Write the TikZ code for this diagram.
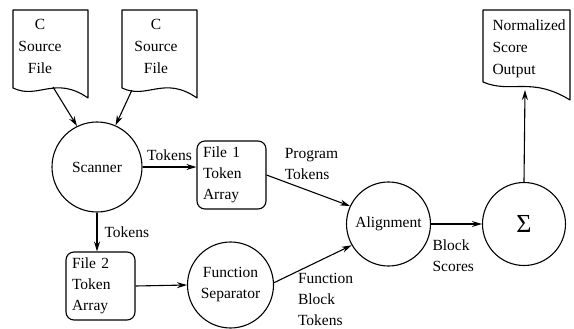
\documentclass[tikz,border=0pt]{standalone}
\usepackage{fontspec}
\setmainfont{Liberation Serif}
\usetikzlibrary{arrows.meta}
\begin{document}
\begin{tikzpicture}[x=1pt, y=-1pt, line width=1.1pt, font=\fontsize{15.5}{21}\selectfont]
        \tikzstyle{docpage}=[draw, line join=round]
        \tikzstyle{doctext}=[align=center, inner sep=0pt, font=\fontsize{15.5}{22}\selectfont]
        \tikzstyle{proc}=[draw, circle, minimum size=86pt, inner sep=0pt, align=center]
        \tikzstyle{store}=[draw, rectangle, rounded corners=8pt, minimum width=69pt, minimum height=68pt, text width=57pt, align=left, inner sep=0pt]
        \tikzstyle{arr}=[-{Stealth[length=10pt, width=6pt]}]
        \tikzstyle{lbl}=[align=left, inner sep=1pt]
        \useasboundingbox (0,0) rectangle (574,329);
        % input files
        \begin{scope}[shift={(13,10)}]
            \draw[docpage] (0,0) -- (0,78) .. controls (25,90) and (42,65) .. (75,88) -- (75,0) -- cycle;
            \node[doctext] (srcA) at (27,36) {C\\Source\\File};
            \coordinate (srcAout) at (40,77);
        \end{scope}
        \begin{scope}[shift={(122,10)}]
            \draw[docpage] (0,0) -- (0,78) .. controls (25,90) and (42,65) .. (75,88) -- (75,0) -- cycle;
            \node[doctext] (srcB) at (34,36) {C\\Source\\File};
            \coordinate (srcBout) at (10,80);
        \end{scope}
        % output file
        \begin{scope}[shift={(483,10)}]
            \draw[docpage] (0,0) -- (0,72) .. controls (28,84) and (48,66) .. (87,90) -- (87,0) -- cycle;
            \node[doctext, align=left, anchor=north west] (result) at (9,9) {Normalized\\Score\\Output};
            \coordinate (resultin) at (42,80);
        \end{scope}
        \node[proc, minimum size=90pt] (scanner) at (97,167) {Scanner};
        \node[store] (file1) at (231.5,175) {File 1\\Token\\Array};
        \node[store] (file2) at (100.5,286) {File 2\\Token\\Array};
        \node[proc] (fsep) at (230.5,285) {Function\\Separator};
        \node[proc, minimum size=84pt] (align) at (388.5,224) {Alignment};
        \node[proc, minimum size=83pt] (sigma) at (524,224) {\fontsize{26}{26}\selectfont Σ};
        \draw[arr] (srcAout) -- (scanner.116);
        \draw[arr] (srcBout) -- (scanner.66);
        \draw[arr] (scanner.east) -- (scanner.east -| file1.west) node[midway, above=5pt, lbl] {Tokens};
        \draw[arr] (scanner.south) -- (scanner.south |- file2.north) node[midway, right=6pt, lbl] {Tokens};
        \draw[arr] (file2.east) -- (fsep.west);
        \draw[arr] (file1.east) -- (align.155) node[pos=0.2, anchor=south west, lbl] {Program\\Tokens};
        \draw[arr] (fsep.3) -- (align.210) node[pos=0.29, anchor=north west, lbl, fill=white] {Function\\Block\\Tokens};
        \draw[arr] (align.east) -- (sigma.west) node[pos=0, anchor=north west, lbl, yshift=-14pt] {Block\\Scores};
        \draw[arr] (sigma.north) -- (resultin);
    \end{tikzpicture}
\end{document}
